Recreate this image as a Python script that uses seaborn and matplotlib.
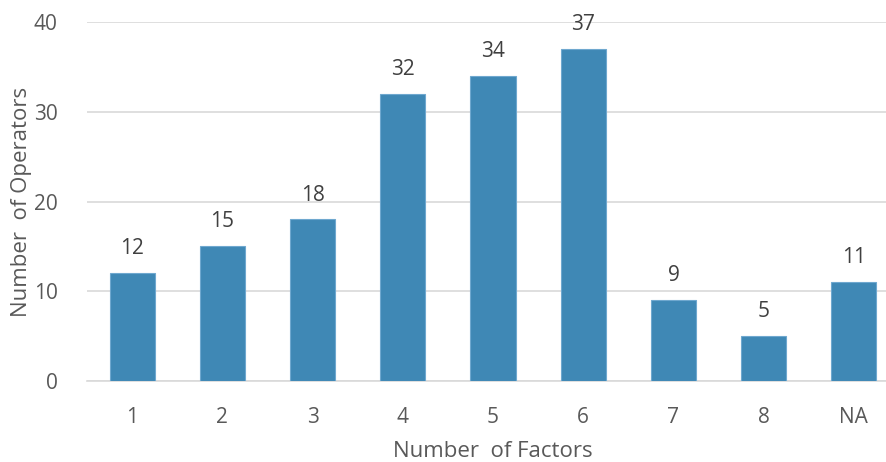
import matplotlib
matplotlib.use("Agg")
import matplotlib.pyplot as plt
import seaborn as sns
import pandas as pd

factors = ["1", "2", "3", "4", "5", "6", "7", "8", "NA"]
operators = [12, 15, 18, 32, 34, 37, 9, 5, 11]

sns.set_theme(style="white")
plt.rcParams["font.family"] = ["Open Sans", "DejaVu Sans"]

text_color = "#595959"
bar_color = "#3F88B5"

df = pd.DataFrame({"factors": factors, "operators": operators})

fig = plt.figure(figsize=(8.87, 4.62), dpi=100)
ax = fig.add_axes([87 / 887, (462 - 381) / 462, 812 / 887, 359 / 462])

sns.barplot(data=df, x="factors", y="operators", color=bar_color,
            width=0.5, saturation=1, edgecolor="#6fa8cf", linewidth=0.8,
            ax=ax, zorder=3)

ax.set_ylim(0, 40)
ax.set_yticks([0, 10, 20, 30, 40])
ax.yaxis.grid(True, color="#d9d9d9", linewidth=1.2, zorder=0)
ax.set_axisbelow(True)
for s in ["top", "right", "left"]:
    ax.spines[s].set_visible(False)
ax.spines["bottom"].set_color("#d9d9d9")
ax.spines["bottom"].set_linewidth(1.2)

ax.tick_params(axis="both", length=0, labelsize=15, labelcolor=text_color)
ax.tick_params(axis="x", pad=19)
ax.tick_params(axis="y", pad=21)

ax.set_xlabel("Number  of Factors", fontsize=16, color=text_color, labelpad=9)
ax.set_ylabel("Number  of Operators", fontsize=16, color=text_color)
ax.yaxis.set_label_coords(-0.068, 0.5)

for container in ax.containers:
    ax.bar_label(container, labels=[str(v) for v in operators], padding=10,
                 fontsize=15, color="#404040", clip_on=False)

fig.savefig("out.png", dpi=100)
